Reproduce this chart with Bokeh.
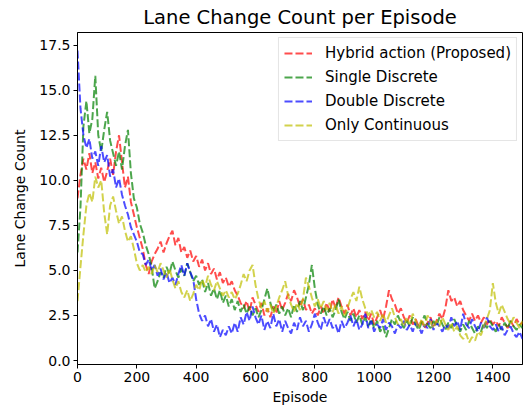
from bokeh.plotting import figure
from bokeh.models import Range1d, FixedTicker, NumeralTickFormatter, Legend, LegendItem
from bokeh.embed import file_html
from bokeh.resources import INLINE

episodes = list(range(0, 1501, 10))

hybrid = [9.0, 10.3, 11.2, 10.6, 11.5, 10.4, 11.0, 10.1, 10.7, 9.9,
          10.5, 11.2, 10.3, 11.6, 12.5, 11.0, 9.6, 10.2, 8.8, 8.1,
          7.4, 6.8, 6.2, 5.3, 4.8, 5.5, 5.9, 6.2, 6.6, 6.0,
          6.5, 6.9, 7.2, 6.4, 6.8, 6.0, 6.3, 5.7, 6.1, 5.5,
          5.8, 5.2, 5.6, 5.0, 5.4, 4.8, 5.1, 4.5, 4.9, 4.3,
          4.6, 4.1, 4.4, 3.9, 3.6, 3.2, 2.9, 3.3, 2.7, 3.5,
          3.1, 2.7, 3.2, 2.5, 2.9, 2.4, 3.0, 2.6, 3.3, 2.8,
          3.2, 3.7, 3.3, 3.9, 3.5, 3.0, 3.4, 2.8, 3.1, 2.6,
          2.9, 2.5, 3.0, 2.6, 3.2, 2.7, 3.4, 2.9, 3.5, 3.0,
          2.6, 3.1, 2.5, 2.9, 2.4, 2.8, 2.3, 2.7, 2.2, 2.6,
          2.0, 2.4, 2.8, 2.3, 3.0, 3.9, 3.4, 3.1, 2.6, 2.9,
          2.4, 2.1, 2.5, 2.0, 2.3, 1.9, 2.2, 1.8, 2.1, 2.4,
          1.9, 2.2, 2.6, 2.3, 2.9, 3.9, 3.3, 3.5, 3.0, 3.3,
          2.8, 2.5, 2.2, 2.6, 2.2, 2.5, 2.1, 2.4, 2.0, 2.3,
          2.0, 2.2, 1.9, 2.4, 2.1, 1.8, 2.2, 1.9, 2.3, 2.0, 2.1]

single = [6.0, 8.5, 13.0, 14.4, 12.6, 13.4, 15.8, 12.5, 11.6, 12.8,
          13.8, 12.2, 11.5, 10.8, 11.6, 10.6, 11.9, 12.8, 10.4, 9.0,
          8.5, 7.6, 7.1, 6.4, 5.9, 5.2, 4.0, 4.4, 4.9, 4.6,
          5.2, 4.8, 5.5, 5.0, 4.6, 5.1, 4.7, 5.4, 4.9, 4.4,
          4.7, 4.2, 4.5, 3.8, 4.3, 3.6, 4.0, 3.4, 3.9, 3.2,
          3.6, 3.0, 3.4, 2.8, 3.3, 2.7, 3.1, 2.6, 3.0, 2.5,
          2.9, 2.4, 2.8, 3.4, 4.0, 3.2, 2.7, 3.1, 2.6, 3.0,
          2.5, 2.9, 2.4, 3.1, 2.7, 3.3, 2.8, 3.5, 4.2, 5.3,
          4.0, 3.1, 2.6, 3.0, 2.5, 2.9, 2.4, 2.8, 3.4, 2.7,
          2.3, 2.7, 2.2, 2.6, 2.1, 2.5, 2.0, 2.4, 1.9, 2.3,
          1.8, 2.2, 1.6, 1.9, 1.3, 1.8, 2.3, 2.0, 2.5, 2.1,
          1.8, 2.2, 1.9, 2.4, 2.0, 1.7, 2.1, 2.5, 2.0, 1.8,
          2.2, 1.9, 2.4, 2.0, 1.7, 2.1, 1.8, 2.3, 1.9, 1.6,
          2.0, 1.7, 2.2, 1.8, 1.5, 1.9, 1.6, 2.1, 1.8, 2.2,
          1.9, 1.6, 2.0, 1.7, 2.1, 1.8, 2.2, 1.9, 1.7, 2.0, 1.8]

double = [17.2, 14.0, 12.5, 11.8, 12.3, 11.2, 11.6, 10.8, 11.9, 11.0,
          11.4, 10.2, 10.6, 9.6, 10.1, 9.2, 8.6, 8.1, 7.4, 7.0,
          6.6, 6.0, 5.9, 5.3, 5.6, 5.0, 5.3, 4.7, 5.1, 4.5,
          4.9, 4.3, 4.6, 4.2, 4.8, 5.3, 4.7, 5.4, 4.9, 4.5,
          3.4, 2.6, 2.2, 2.5, 1.9, 2.3, 1.6, 2.0, 1.3, 1.7,
          1.4, 1.9, 1.5, 2.1, 1.6, 2.4, 2.0, 2.7, 2.2, 3.0,
          2.4, 2.0, 2.5, 1.7, 2.2, 1.8, 2.6, 1.9, 2.3, 1.6,
          2.2, 1.8, 1.5, 2.1, 1.7, 2.4, 1.9, 2.2, 1.6, 2.0,
          2.6, 2.1, 1.7, 2.4, 1.9, 2.3, 1.8, 2.0, 1.5, 2.2,
          1.8, 2.1, 2.5, 1.9, 2.3, 1.7, 2.0, 2.6, 1.8, 2.2,
          1.6, 2.0, 1.8, 2.3, 1.7, 2.1, 1.9, 1.5, 2.0, 1.8,
          2.2, 1.7, 2.0, 1.6, 2.1, 1.9, 1.5, 2.0, 1.8, 2.3,
          1.7, 2.1, 1.9, 1.6, 2.0, 1.8, 2.4, 1.9, 2.2, 1.7,
          2.6, 2.0, 1.8, 2.3, 1.9, 1.6, 2.1, 1.8, 2.4, 1.9,
          1.7, 2.0, 1.6, 1.9, 1.4, 1.7, 1.9, 1.5, 1.3, 1.6, 1.2]

continuous = [3.3, 5.2, 7.0, 8.6, 9.3, 8.8, 10.2, 9.6, 10.0, 8.2,
              7.0, 8.6, 9.1, 8.3, 7.6, 8.0, 7.2, 6.6, 6.9, 6.2,
              5.4, 5.0, 5.3, 4.9, 5.2, 4.8, 5.3, 4.9, 5.4, 5.0,
              4.6, 5.1, 4.5, 4.0, 4.4, 3.8, 3.5, 3.9, 3.3, 3.7,
              4.2, 3.9, 4.5, 4.1, 4.7, 4.2, 3.9, 4.4, 4.0, 3.6,
              3.9, 3.5, 3.8, 3.4, 3.7, 4.2, 4.8, 4.4, 5.0, 5.3,
              4.2, 3.4, 2.9, 3.3, 2.7, 3.1, 2.6, 3.0, 3.5, 3.9,
              4.4, 3.6, 3.1, 2.7, 3.2, 2.8, 3.4, 4.6, 4.1, 3.5,
              3.0, 3.4, 2.9, 3.3, 2.8, 3.2, 2.7, 3.1, 2.6, 3.0,
              2.5, 2.9, 3.4, 3.8, 3.3, 4.1, 3.4, 2.9, 2.5, 2.8,
              2.4, 2.7, 2.2, 2.6, 2.1, 2.5, 2.9, 2.4, 2.0, 2.3,
              1.9, 2.4, 2.0, 2.6, 2.2, 1.8, 2.3, 1.9, 2.5, 2.1,
              1.8, 2.2, 1.9, 2.4, 2.0, 1.7, 2.1, 1.6, 1.9, 1.4,
              1.2, 1.5, 1.0, 1.3, 1.1, 1.6, 1.4, 1.9, 2.3, 2.8,
              4.3, 3.2, 2.6, 3.1, 2.7, 2.3, 2.0, 2.4, 2.1, 1.8, 2.2]

series_names = ["Hybrid action (Proposed)", "Single Discrete", "Double Discrete", "Only Continuous"]
series_values = [hybrid, single, double, continuous]
series_colors = ["#ff0000", "#008000", "#0000ff", "#bfbf00"]

x_ticks = [0, 200, 400, 600, 800, 1000, 1200, 1400]
y_ticks = [0.0, 2.5, 5.0, 7.5, 10.0, 12.5, 15.0, 17.5]

FONT = "DejaVu Sans"

p = figure(width=526, height=411, output_backend="svg", toolbar_location=None,
           x_range=Range1d(0, 1500), y_range=Range1d(-0.22, 18.2),
           title="Lane Change Count per Episode",
           min_border_left=77, min_border_right=4, min_border_top=32, min_border_bottom=47)

p.title.text_font = FONT
p.title.text_font_size = "19.5px"
p.title.text_font_style = "normal"
p.title.align = "center"
p.title.text_color = "#000000"
p.title.standoff = 7

items = []
for name, vals, col in zip(series_names, series_values, series_colors):
    r = p.line(episodes, vals, line_color=col, line_alpha=0.7, line_width=2, line_dash="8 3")
    items.append(LegendItem(label=name, renderers=[r]))

legend = Legend(items=items, location="top_right")
legend.label_text_font = FONT
legend.label_text_font_size = "15px"
legend.label_text_color = "#000000"
legend.glyph_width = 28
legend.glyph_height = 20
legend.label_height = 20
legend.spacing = 4
legend.padding = 5
legend.margin = 5
legend.label_standoff = 13
legend.border_line_color = "#cccccc"
legend.border_line_width = 1
legend.background_fill_alpha = 0.8
p.add_layout(legend)

p.xgrid.visible = False
p.ygrid.visible = False
p.outline_line_color = "#000000"
p.outline_line_width = 1
p.outline_line_alpha = 1.0

p.xaxis.ticker = FixedTicker(ticks=x_ticks)
p.yaxis.ticker = FixedTicker(ticks=y_ticks)
p.yaxis.formatter = NumeralTickFormatter(format="0.0")
p.xaxis.axis_label = "Episode"
p.yaxis.axis_label = "Lane Change Count"
for ax in (p.xaxis, p.yaxis):
    ax.axis_label_text_font = FONT
    ax.axis_label_text_font_size = "14px"
    ax.axis_label_text_font_style = "normal"
    ax.axis_label_text_color = "#000000"
    ax.major_label_text_font = FONT
    ax.major_label_text_font_size = "14px"
    ax.major_label_text_color = "#000000"
    ax.axis_line_color = "#000000"
    ax.major_tick_line_color = "#000000"
    ax.major_tick_out = 4
    ax.major_tick_in = 0
    ax.minor_tick_line_color = None
    ax.major_label_standoff = 3
p.xaxis.axis_label_standoff = 4
p.yaxis.axis_label_standoff = 8

p.background_fill_color = "#ffffff"
p.border_fill_color = "#ffffff"

open("out.html", "w").write(file_html(p, INLINE))
